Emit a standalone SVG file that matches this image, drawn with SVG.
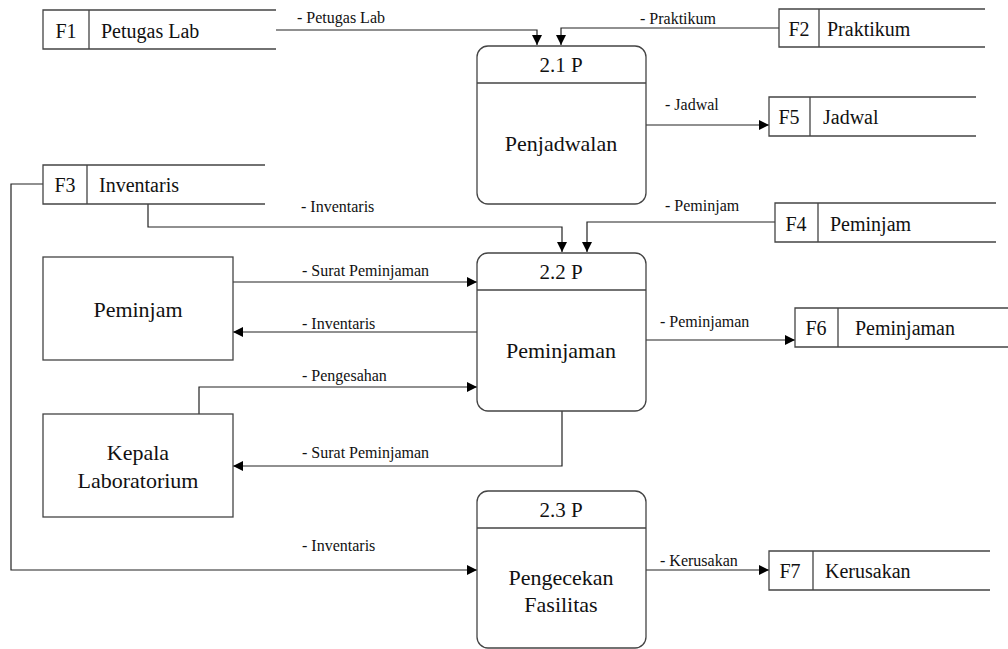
<svg xmlns="http://www.w3.org/2000/svg" width="1008" height="649" viewBox="0 0 1008 649">
<style>
.box{fill:#fff;stroke:#444;stroke-width:1.3}
.ln{fill:none;stroke:#222;stroke-width:1.2}
text{font-family:'Liberation Serif',serif !important;fill:#111}
</style>
<defs>
<marker id="ar" viewBox="0 0 10 10" refX="10" refY="5" markerWidth="10" markerHeight="10" markerUnits="userSpaceOnUse" orient="auto">
<path d="M0,0 L10,5 L0,10 z" fill="#000"/>
</marker>
</defs>
<rect width="1008" height="649" fill="#fff"/>
<g id="connectors">
<path class="ln" d="M276,30 H537 V45" marker-end="url(#ar)"/>
<path class="ln" d="M779,28 H561 V45" marker-end="url(#ar)"/>
<path class="ln" d="M646,125 H769" marker-end="url(#ar)"/>
<path class="ln" d="M148,204 V227 H562 V252" marker-end="url(#ar)"/>
<path class="ln" d="M775,222 H587 V252" marker-end="url(#ar)"/>
<path class="ln" d="M233,282 H477" marker-end="url(#ar)"/>
<path class="ln" d="M477,332 H233" marker-end="url(#ar)"/>
<path class="ln" d="M199,414 V387 H477" marker-end="url(#ar)"/>
<path class="ln" d="M562,411 V466 H233" marker-end="url(#ar)"/>
<path class="ln" d="M646,340 H795" marker-end="url(#ar)"/>
<path class="ln" d="M43,184 H11 V570 H477" marker-end="url(#ar)"/>
<path class="ln" d="M646,570 H769" marker-end="url(#ar)"/>
<text x="297" y="23" style="font-family:'Liberation Serif',serif;font-size:16px">- Petugas Lab</text>
<text x="640" y="24" style="font-family:'Liberation Serif',serif;font-size:16px">- Praktikum</text>
<text x="665" y="110" style="font-family:'Liberation Serif',serif;font-size:16px">- Jadwal</text>
<text x="301" y="212" style="font-family:'Liberation Serif',serif;font-size:16px">- Inventaris</text>
<text x="665" y="211" style="font-family:'Liberation Serif',serif;font-size:16px">- Peminjam</text>
<text x="302" y="276" style="font-family:'Liberation Serif',serif;font-size:16px">- Surat Peminjaman</text>
<text x="302" y="329" style="font-family:'Liberation Serif',serif;font-size:16px">- Inventaris</text>
<text x="302" y="381" style="font-family:'Liberation Serif',serif;font-size:16px">- Pengesahan</text>
<text x="302" y="458" style="font-family:'Liberation Serif',serif;font-size:16px">- Surat Peminjaman</text>
<text x="660" y="327" style="font-family:'Liberation Serif',serif;font-size:16px">- Peminjaman</text>
<text x="302" y="551" style="font-family:'Liberation Serif',serif;font-size:16px">- Inventaris</text>
<text x="660" y="566" style="font-family:'Liberation Serif',serif;font-size:16px">- Kerusakan</text>
</g>
<g id="F1">
<path class="box" d="M276,10 H43 V49 H276 M89,10 V49"/>
<text x="66" y="38" text-anchor="middle" style="font-family:'Liberation Serif',serif;font-size:20px">F1</text>
<text x="101" y="38" style="font-family:'Liberation Serif',serif;font-size:20px">Petugas Lab</text>
</g>
<g id="F2">
<path class="box" d="M985,9 H779 V47 H985 M819,9 V47"/>
<text x="799" y="36" text-anchor="middle" style="font-family:'Liberation Serif',serif;font-size:20px">F2</text>
<text x="827" y="36" style="font-family:'Liberation Serif',serif;font-size:20px">Praktikum</text>
</g>
<g id="F5">
<path class="box" d="M976,97 H769 V136 H976 M810,97 V136"/>
<text x="789" y="124" text-anchor="middle" style="font-family:'Liberation Serif',serif;font-size:20px">F5</text>
<text x="823" y="124" style="font-family:'Liberation Serif',serif;font-size:20px">Jadwal</text>
</g>
<g id="F3">
<path class="box" d="M265,165 H43 V204 H265 M87,165 V204"/>
<text x="65" y="192" text-anchor="middle" style="font-family:'Liberation Serif',serif;font-size:20px">F3</text>
<text x="99" y="192" style="font-family:'Liberation Serif',serif;font-size:20px">Inventaris</text>
</g>
<g id="F4">
<path class="box" d="M996,203 H775 V242 H996 M818,203 V242"/>
<text x="796" y="231" text-anchor="middle" style="font-family:'Liberation Serif',serif;font-size:20px">F4</text>
<text x="830" y="231" style="font-family:'Liberation Serif',serif;font-size:20px">Peminjam</text>
</g>
<g id="F6">
<path class="box" d="M1010,308 H795 V347 H1010 M838,308 V347"/>
<text x="816" y="335" text-anchor="middle" style="font-family:'Liberation Serif',serif;font-size:20px">F6</text>
<text x="855" y="335" style="font-family:'Liberation Serif',serif;font-size:20px">Peminjaman</text>
</g>
<g id="F7">
<path class="box" d="M990,551 H769 V590 H990 M813,551 V590"/>
<text x="790" y="578" text-anchor="middle" style="font-family:'Liberation Serif',serif;font-size:20px">F7</text>
<text x="825" y="578" style="font-family:'Liberation Serif',serif;font-size:20px">Kerusakan</text>
</g>
<g id="P21">
<rect class="box" x="477" y="46" width="169" height="158" rx="11"/>
<line class="box" x1="477" y1="83" x2="646" y2="83"/>
<text x="561" y="72" text-anchor="middle" style="font-family:'Liberation Serif',serif;font-size:21px">2.1 P</text>
<text x="561" y="151" text-anchor="middle" style="font-family:'Liberation Serif',serif;font-size:22px">Penjadwalan</text>
</g>
<g id="P22">
<rect class="box" x="477" y="253" width="169" height="158" rx="11"/>
<line class="box" x1="477" y1="290" x2="646" y2="290"/>
<text x="561" y="279" text-anchor="middle" style="font-family:'Liberation Serif',serif;font-size:21px">2.2 P</text>
<text x="561" y="358" text-anchor="middle" style="font-family:'Liberation Serif',serif;font-size:22px">Peminjaman</text>
</g>
<g id="P23">
<rect class="box" x="477" y="491" width="169" height="157" rx="11"/>
<line class="box" x1="477" y1="528" x2="646" y2="528"/>
<text x="561" y="517" text-anchor="middle" style="font-family:'Liberation Serif',serif;font-size:21px">2.3 P</text>
<text x="561" y="585" text-anchor="middle" style="font-family:'Liberation Serif',serif;font-size:22px">Pengecekan</text>
<text x="561" y="612" text-anchor="middle" style="font-family:'Liberation Serif',serif;font-size:22px">Fasilitas</text>
</g>
<g id="Peminjam">
<rect class="box" x="43" y="257" width="190" height="103"/>
<text x="138" y="317" text-anchor="middle" style="font-family:'Liberation Serif',serif;font-size:22px">Peminjam</text>
</g>
<g id="Kepala">
<rect class="box" x="43" y="414" width="190" height="103"/>
<text x="138" y="460" text-anchor="middle" style="font-family:'Liberation Serif',serif;font-size:22px">Kepala</text>
<text x="138" y="488" text-anchor="middle" style="font-family:'Liberation Serif',serif;font-size:22px">Laboratorium</text>
</g>
</svg>
